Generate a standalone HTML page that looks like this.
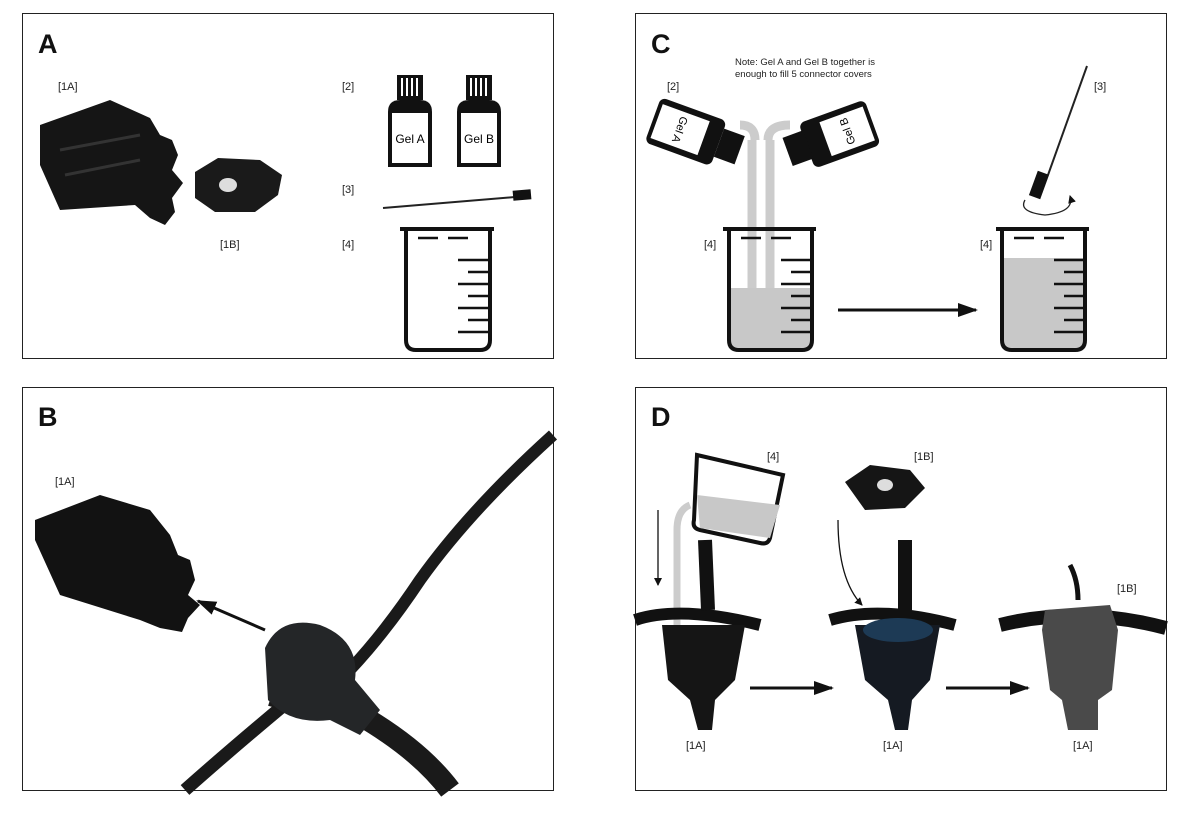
<!DOCTYPE html>
<html><head><meta charset="utf-8"><style>
html,body{margin:0;padding:0;background:#fff;}
svg{display:block;font-family:"Liberation Sans",sans-serif;}
</style></head><body>
<svg width="1191" height="814" viewBox="0 0 1191 814" xmlns="http://www.w3.org/2000/svg">
<defs>
<marker id="ah" markerUnits="userSpaceOnUse" markerWidth="20" markerHeight="16" refX="18" refY="8" orient="auto"><path d="M0,1 L20,8 L0,15 z" fill="#111"/></marker>
<marker id="ahs" markerUnits="userSpaceOnUse" markerWidth="8" markerHeight="8" refX="7" refY="4" orient="auto"><path d="M0,0 L8,4 L0,8 z" fill="#111"/></marker>
</defs>
<g fill="none" stroke="#222" stroke-width="1">
<rect x="22.5" y="13.5" width="531" height="345"/>
<rect x="635.5" y="13.5" width="531" height="345"/>
<rect x="22.5" y="387.5" width="531" height="403"/>
<rect x="635.5" y="387.5" width="531" height="403"/>
</g>
<g font-weight="bold" font-size="27" fill="#111">
<text x="38" y="53">A</text><text x="651" y="53">C</text>
<text x="38" y="426">B</text><text x="651" y="426">D</text>
</g>
<g font-size="11" fill="#222">
<text x="58" y="90">[1A]</text><text x="220" y="248">[1B]</text>
<text x="342" y="90">[2]</text><text x="342" y="193">[3]</text><text x="342" y="248">[4]</text>
<text x="667" y="90">[2]</text><text x="1094" y="90">[3]</text>
<text x="704" y="248">[4]</text><text x="980" y="248">[4]</text>
<text x="55" y="485">[1A]</text>
<text x="767" y="460">[4]</text><text x="914" y="460">[1B]</text><text x="1117" y="592">[1B]</text>
<text x="686" y="749">[1A]</text><text x="883" y="749">[1A]</text><text x="1073" y="749">[1A]</text>
<text x="735" y="65" font-size="9.5">Note: Gel A and Gel B together is</text>
<text x="735" y="77" font-size="9.5">enough to fill 5 connector covers</text>
</g>
<!-- Panel A connector 1A -->
<path d="M40,125 L110,100 L150,118 L160,135 L172,140 L178,155 L172,170 L183,183 L172,198 L175,212 L165,225 L150,218 L135,205 L60,210 L40,165 z" fill="#151515"/>
<path d="M60,150 L140,135 M65,175 L140,160" stroke="#333" stroke-width="3"/>
<path d="M195,172 L218,158 L260,160 L282,175 L278,195 L255,212 L215,212 L195,198 z" fill="#1a1a1a"/>
<ellipse cx="228" cy="185" rx="9" ry="7" fill="#ddd"/>
<g>
<rect x="397" y="75" width="26" height="25" fill="#111"/>
<path d="M402,78v18M407,78v18M412,78v18M417,78v18" stroke="#fff" stroke-width="2"/>
<path d="M388,112 Q388,100 400,100 L420,100 Q432,100 432,112 L432,167 L388,167 z" fill="#111"/>
<rect x="392" y="113" width="36" height="50" fill="#fff"/>
<text x="410" y="143" text-anchor="middle" font-size="12">Gel A</text>
<rect x="466" y="75" width="26" height="25" fill="#111"/>
<path d="M471,78v18M476,78v18M481,78v18M486,78v18" stroke="#fff" stroke-width="2"/>
<path d="M457,112 Q457,100 469,100 L489,100 Q501,100 501,112 L501,167 L457,167 z" fill="#111"/>
<rect x="461" y="113" width="36" height="50" fill="#fff"/>
<text x="479" y="143" text-anchor="middle" font-size="12">Gel B</text>
</g>
<path d="M383,208 L515,197" stroke="#222" stroke-width="2"/>
<rect x="513" y="190" width="18" height="10" fill="#111" transform="rotate(-5 522 195)"/>
<g fill="none" stroke="#111" stroke-width="4">
<path d="M400,229 L494,229 M406,229 L406,340 Q406,350 416,350 L480,350 Q490,350 490,340 L490,229"/>
</g>
<path d="M418,238h20M448,238h20M458,260h30M468,272h20M458,284h30M468,296h20M458,308h30M468,320h20M458,332h30" stroke="#111" stroke-width="2.5"/>
<!-- Panel C -->
<path d="M752,140 L752,290 M770,140 L770,290" stroke="#ccc" stroke-width="9" fill="none"/>
<path d="M740,125 Q755,125 755,140 M790,125 Q768,125 768,140" stroke="#ccc" stroke-width="9" fill="none"/>
<g transform="rotate(20 692 135)">
<rect x="650" y="110" width="70" height="48" rx="6" fill="#111"/>
<rect x="654" y="116" width="50" height="36" fill="#fff"/>
<text x="679" y="138" text-anchor="middle" font-size="11" transform="rotate(90 679 134)">Gel A</text>
<rect x="720" y="118" width="22" height="30" fill="#111"/>
</g>
<g transform="rotate(-20 840 135)">
<rect x="805" y="110" width="70" height="48" rx="6" fill="#111"/>
<rect x="825" y="116" width="46" height="36" fill="#fff"/>
<text x="848" y="138" text-anchor="middle" font-size="11" transform="rotate(-90 848 134)">Gel B</text>
<rect x="785" y="118" width="22" height="30" fill="#111"/>
</g>
<path d="M731,288 L810,288 L810,343 Q810,348 800,348 L741,348 Q731,348 731,343 z" fill="#c8c8c8"/>
<path d="M1004,258 L1083,258 L1083,343 Q1083,348 1073,348 L1014,348 Q1004,348 1004,343 z" fill="#c8c8c8"/>
<g fill="none" stroke="#111" stroke-width="4">
<path d="M723,229 L816,229 M729,229 L729,340 Q729,350 739,350 L802,350 Q812,350 812,340 L812,229"/>
<path d="M996,229 L1089,229 M1002,229 L1002,340 Q1002,350 1012,350 L1075,350 Q1085,350 1085,340 L1085,229"/>
</g>
<path d="M741,238h20M771,238h20M781,260h30M791,272h20M781,284h30M791,296h20M781,308h30M791,320h20M781,332h30" stroke="#111" stroke-width="2.5"/>
<path d="M1014,238h20M1044,238h20M1054,260h30M1064,272h20M1054,284h30M1064,296h20M1054,308h30M1064,320h20M1054,332h30" stroke="#111" stroke-width="2.5"/>
<path d="M838,310 L976,310" stroke="#111" stroke-width="3" marker-end="url(#ah)"/>
<path d="M1087,66 L1048,175" stroke="#222" stroke-width="2"/>
<rect x="1033" y="172" width="12" height="26" fill="#111" transform="rotate(20 1039 185)"/>
<path d="M1025,200 Q1018,212 1045,215 Q1075,212 1070,196" fill="none" stroke="#222" stroke-width="1.3" marker-end="url(#ahs)"/>
<!-- Panel B -->
<path d="M35,520 L100,495 L150,510 L170,535 L178,555 L190,560 L195,580 L188,595 L200,605 L188,618 L182,632 L160,628 L140,620 L60,595 L35,540 z" fill="#121212"/>
<path d="M265,630 L198,601" stroke="#111" stroke-width="3" marker-end="url(#ah)"/>
<path d="M553,435 Q470,510 420,580 Q380,640 340,680 Q300,710 270,700" fill="none" stroke="#1a1a1a" stroke-width="12"/>
<path d="M360,715 Q420,750 450,790" fill="none" stroke="#1a1a1a" stroke-width="22"/>
<path d="M290,700 Q230,750 185,790" fill="none" stroke="#1a1a1a" stroke-width="13"/>
<path d="M265,648 Q280,615 320,625 Q360,640 355,680 L380,710 L360,735 L330,720 Q290,725 268,700 z" fill="#242628"/>
<!-- Panel D -->
<path d="M697,455 L783,475 L770,538 Q768,545 760,543 L700,530 Q692,528 694,520 z" fill="#fff" stroke="#111" stroke-width="4"/>
<path d="M697,495 L780,505 L770,538 L700,528 z" fill="#c8c8c8"/>
<path d="M690,505 Q677,510 677,530 L677,630" stroke="#ccc" stroke-width="7" fill="none"/>
<path d="M658,510 L658,585" stroke="#111" stroke-width="1.3" marker-end="url(#ahs)"/>
<path d="M635,620 Q680,605 760,625" stroke="#111" stroke-width="12" fill="none"/>
<path d="M705,540 L708,610" stroke="#111" stroke-width="14"/>
<path d="M662,625 L745,625 L735,680 L715,700 L712,730 L698,730 L690,700 L668,680 z" fill="#151515"/>
<path d="M830,620 Q880,605 955,625" stroke="#111" stroke-width="12" fill="none"/>
<path d="M905,540 L905,610" stroke="#111" stroke-width="14"/>
<path d="M855,625 L940,625 L930,680 L912,700 L908,730 L895,730 L888,700 L865,680 z" fill="#151a22"/>
<ellipse cx="898" cy="630" rx="35" ry="12" fill="#1d3a55"/>
<path d="M845,482 L870,465 L910,470 L925,488 L905,508 L865,510 z" fill="#151515"/>
<ellipse cx="885" cy="485" rx="8" ry="6" fill="#ddd"/>
<path d="M838,520 Q838,580 862,605" fill="none" stroke="#111" stroke-width="1.3" marker-end="url(#ahs)"/>
<path d="M1000,625 Q1080,605 1166,628" stroke="#111" stroke-width="14" fill="none"/>
<path d="M1070,565 Q1078,580 1078,600" stroke="#111" stroke-width="5" fill="none"/>
<path d="M1045,610 L1110,605 L1118,630 L1112,690 L1098,700 L1098,730 L1068,730 L1062,700 L1050,690 L1042,630 z" fill="#4a4a4a"/>
<path d="M750,688 L832,688" stroke="#111" stroke-width="3" marker-end="url(#ah)"/>
<path d="M946,688 L1028,688" stroke="#111" stroke-width="3" marker-end="url(#ah)"/>
</svg>
</body></html>
